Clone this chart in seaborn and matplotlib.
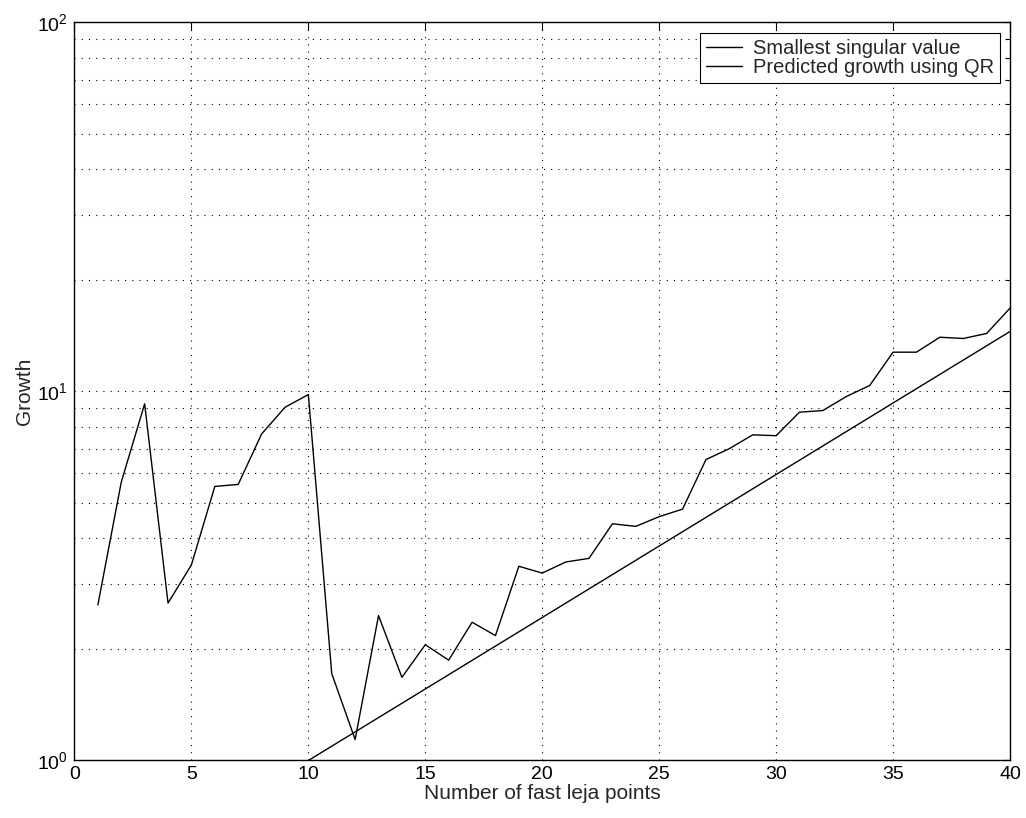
import matplotlib
matplotlib.use("Agg")
import matplotlib.pyplot as plt
import seaborn as sns
import pandas as pd
import numpy as np
from matplotlib.ticker import LogLocator, NullFormatter, MultipleLocator

# Data
points = list(range(1, 41))
smallest_singular = [2.64, 5.68, 9.26, 2.67, 3.39, 5.53, 5.60, 7.67, 9.06, 9.81,
                     1.72, 1.14, 2.47, 1.68, 2.06, 1.87, 2.37, 2.18, 3.36, 3.22,
                     3.45, 3.53, 4.38, 4.31, 4.58, 4.80, 6.54, 7.00, 7.63, 7.59,
                     8.79, 8.88, 9.69, 10.38, 12.78, 12.78, 14.03, 13.92, 14.36, 16.82]
pred_x = [10, 40]
pred_growth = [1.0, 14.54]

sns.set_style("white")
plt.rcParams['font.family'] = ['Liberation Sans', 'DejaVu Sans']
plt.rcParams['mathtext.fontset'] = 'custom'
plt.rcParams['mathtext.rm'] = 'Liberation Sans'

df1 = pd.DataFrame({"x": points, "y": smallest_singular})
df2 = pd.DataFrame({"x": pred_x, "y": pred_growth})

fig = plt.figure(figsize=(10.26, 8.18), dpi=100)
ax = fig.add_axes([0.0726, 0.0703, 0.9118, 0.9022])

sns.lineplot(data=df1, x="x", y="y", ax=ax, color="black", linewidth=1.0,
             label="Smallest singular value")
sns.lineplot(data=df2, x="x", y="y", ax=ax, color="black", linewidth=1.0,
             label="Predicted growth using QR")

ax.set_yscale("log")
ax.set_xlim(0, 40)
ax.set_ylim(1, 100)
ax.xaxis.set_major_locator(MultipleLocator(5))
ax.yaxis.set_major_locator(LogLocator(base=10))
ax.yaxis.set_minor_locator(LogLocator(base=10, subs=np.arange(2, 10)))
ax.yaxis.set_minor_formatter(NullFormatter())

ax.grid(True, which="major", axis="both", color="black", linestyle=(0, (1, 5.5)), linewidth=0.8)
ax.grid(True, which="minor", axis="y", color="black", linestyle=(0, (1, 5.5)), linewidth=0.8)

for s in ax.spines.values():
    s.set_linewidth(1.0)
    s.set_color("black")
ax.tick_params(which="both", direction="in", top=True, right=True, labelsize=14, colors="black")
ax.tick_params(which="major", length=6, width=0.8)
ax.tick_params(which="minor", length=3.5, width=0.8)
ax.tick_params(axis="x", pad=4)
ax.tick_params(axis="y", pad=5)

ax.set_xlabel("Number of fast leja points", fontsize=15, labelpad=1)
ax.set_ylabel("Growth", fontsize=15, labelpad=2)

leg = ax.legend(loc="upper right", fontsize=14.5, frameon=True, fancybox=False,
                edgecolor="black", framealpha=1, borderaxespad=0.5,
                handlelength=1.75, handletextpad=0.55, borderpad=0.3,
                labelspacing=0.0)
leg.get_frame().set_linewidth(0.8)

fig.savefig("out.png", dpi=100, facecolor="white")
